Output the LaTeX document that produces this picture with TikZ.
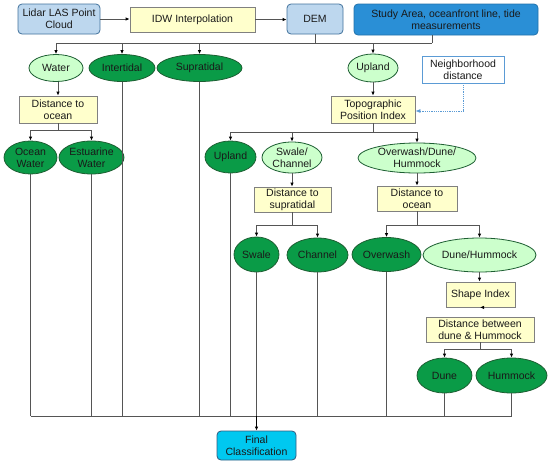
\documentclass[tikz,border=0pt]{standalone}
\usepackage{fontspec}
\setmainfont{Liberation Sans}
\usetikzlibrary{shapes.geometric,arrows.meta}
\definecolor{lbfill}{HTML}{BDD7EE}
\definecolor{lbdraw}{HTML}{41719C}
\definecolor{sblue}{HTML}{2A8FD6}
\definecolor{cyanf}{HTML}{00C8F0}
\definecolor{yfill}{HTML}{FFFFCC}
\definecolor{lgfill}{HTML}{CCFFCC}
\definecolor{dgfill}{HTML}{0A9B47}
\definecolor{gdraw}{HTML}{1D5E32}
\definecolor{ln}{HTML}{555555}
\definecolor{dotb}{HTML}{5B9BD5}
\tikzset{
  every node/.style={font=\fontsize{10.5}{12}\selectfont, align=center, inner sep=0pt, text=black!90},
  bluebox/.style={rectangle, rounded corners=4pt, fill=lbfill, draw=lbdraw, line width=0.8pt},
  studybox/.style={rectangle, rounded corners=4pt, fill=sblue, draw=sblue!80!black, line width=0.8pt},
  finalbox/.style={rectangle, rounded corners=4pt, fill=cyanf, draw=lbdraw!80!black, line width=0.8pt},
  ybox/.style={rectangle, fill=yfill, draw=gray, line width=0.8pt},
  wbox/.style={rectangle, fill=white, draw=dotb, line width=0.6pt},
  lgell/.style={ellipse, fill=lgfill, draw=gdraw, line width=0.8pt},
  dgell/.style={ellipse, fill=dgfill, draw=gdraw, line width=0.8pt},
  ln/.style={draw=ln, line width=0.8pt},
  arr/.style={ln, -{Latex[length=4pt,width=3.5pt,color=black]}},
  dotarr/.style={draw=dotb, line width=0.8pt, densely dotted, -{Latex[length=5pt,width=4pt]}}
}
\begin{document}
\begin{tikzpicture}[x=1pt,y=-1pt]
\useasboundingbox (0,0) rectangle (550,467);
% top row
\node[bluebox, minimum width=82pt, minimum height=30pt] (lidar) at (59,19) {Lidar LAS Point\\Cloud};
\node[ybox, minimum width=125pt, minimum height=25pt] (idw) at (192.5,19.5) {IDW Interpolation};
\node[bluebox, minimum width=56pt, minimum height=30pt] (dem) at (315,19) {DEM};
\node[studybox, minimum width=184pt, minimum height=31pt] (study) at (446,19.5) {Study Area, oceanfront line, tide\\measurements};
% second row
\node[lgell, minimum width=54pt, minimum height=27pt] (water) at (56,68) {Water};
\node[dgell, minimum width=66pt, minimum height=27pt] (inter) at (122,68) {Intertidal};
\node[dgell, minimum width=85pt, minimum height=27pt] (supra) at (199.5,68) {Supratidal};
\node[lgell, minimum width=50pt, minimum height=28pt] (uplandT) at (373,68) {Upland};
\node[wbox, minimum width=82pt, minimum height=27pt] (nbh) at (463,69.5) {Neighborhood\\distance};
% third row
\node[ybox, minimum width=78pt, minimum height=27pt] (dto1) at (58,109.5) {Distance to\\ocean};
\node[ybox, minimum width=84pt, minimum height=27pt] (tpi) at (373,109.5) {Topographic\\Position Index};
% fourth row
\node[dgell, minimum width=53pt, minimum height=33pt] (ocean) at (30.5,157.5) {Ocean\\Water};
\node[dgell, minimum width=65pt, minimum height=33pt] (estu) at (91.5,157.5) {Estuarine\\Water};
\node[dgell, minimum width=51pt, minimum height=32pt] (upland) at (230.5,157) {Upland};
\node[lgell, minimum width=60pt, minimum height=31pt] (swch) at (292,157.5) {Swale/\\Channel};
\node[lgell, minimum width=118pt, minimum height=30pt] (odh) at (417,158) {Overwash/Dune/\\Hummock};
% fifth row
\node[ybox, minimum width=77pt, minimum height=25pt] (dsup) at (292.5,199.5) {Distance to\\supratidal};
\node[ybox, minimum width=80pt, minimum height=25pt] (dto2) at (417,198.5) {Distance to\\ocean};
% sixth row
\node[dgell, minimum width=45pt, minimum height=35pt] (swale) at (256.5,254.5) {Swale};
\node[dgell, minimum width=61pt, minimum height=34pt] (channel) at (317.5,255) {Channel};
\node[dgell, minimum width=69pt, minimum height=34pt] (overwash) at (386.5,254.5) {Overwash};
\node[lgell, minimum width=113pt, minimum height=34pt] (dh) at (479.5,255) {Dune/Hummock};
\node[ybox, minimum width=69pt, minimum height=25pt] (shape) at (480.5,294.5) {Shape Index};
\node[ybox, minimum width=108pt, minimum height=25pt] (dbet) at (480,329.5) {Distance between\\dune \& Hummock};
\node[dgell, minimum width=55pt, minimum height=35pt] (dune) at (444.5,375.5) {Dune};
\node[dgell, minimum width=71pt, minimum height=35pt] (hummock) at (511.5,375.5) {Hummock};
\node[finalbox, minimum width=79pt, minimum height=29pt] (final) at (256.5,445.5) {Final\\Classification};
% coordinates
\coordinate (hub1) at (315,43);
\coordinate (sbx) at (432,43);
\coordinate (hub2) at (58,130);
\coordinate (hub3) at (373,132);
\coordinate (hub4) at (292.5,225);
\coordinate (hub5) at (417,225);
\coordinate (hub6) at (480,349);
\coordinate (bus) at (256.5,416);
% connectors top
\draw[arr] (lidar.east) -- (lidar.east -| idw.west);
\draw[arr] (idw.east) -- (idw.east -| dem.west);
\draw[ln] (dem.south) -- (hub1);
\draw[ln] (study.south -| sbx) -- (sbx);
\draw[ln] (water.north |- hub1) -- (sbx);
\draw[arr] (water.north |- hub1) -- (water.north);
\draw[arr] (inter.north |- hub1) -- (inter.north);
\draw[arr] (supra.north |- hub1) -- (supra.north);
\draw[arr] (uplandT.north |- hub1) -- (uplandT.north);
\draw[arr] (uplandT.south) -- (tpi.north);
\draw[dotarr] (nbh.south) |- ([yshift=-1.5pt]tpi.east);
% water branch
\draw[arr] (water.south -| dto1.north) -- (dto1.north);
\draw[ln] (dto1.south) -- (hub2);
\draw[ln] (ocean.north |- hub2) -- (estu.north |- hub2);
\draw[arr] (ocean.north |- hub2) -- (ocean.north);
\draw[arr] (estu.north |- hub2) -- (estu.north);
% upland branch
\draw[ln] (tpi.south) -- (hub3);
\draw[ln] (upland.north |- hub3) -- (odh.north |- hub3);
\draw[arr] (upland.north |- hub3) -- (upland.north);
\draw[arr] (swch.north |- hub3) -- (swch.north);
\draw[arr] (odh.north |- hub3) -- (odh.north);
\draw[arr] (swch.south) -- (swch.south |- dsup.north);
\draw[arr] (odh.south) -- (dto2.north);
\draw[ln] (dsup.south) -- (hub4);
\draw[ln] (swale.north |- hub4) -- (channel.north |- hub4);
\draw[arr] (swale.north |- hub4) -- (swale.north);
\draw[arr] (channel.north |- hub4) -- (channel.north);
\draw[ln] (dto2.south) -- (hub5);
\draw[ln] (overwash.north |- hub5) -- (dh.north |- hub5);
\draw[arr] (overwash.north |- hub5) -- (overwash.north);
\draw[arr] (dh.north |- hub5) -- (dh.north);
\draw[arr] (dh.south) -- (dh.south |- shape.north);
\draw[arr] (shape.south) -- (shape.south -| dbet.north);
\draw[ln] (dbet.south) -- (hub6);
\draw[ln] (dune.north |- hub6) -- (hummock.north |- hub6);
\draw[arr] (dune.north |- hub6) -- (dune.north);
\draw[arr] (hummock.north |- hub6) -- (hummock.north);
% final bus
\foreach \n in {ocean,estu,inter,supra,upland,swale,channel,overwash,dune,hummock}
  \draw[ln] (\n.south) -- (\n.south |- bus);
\draw[ln] (ocean.south |- bus) -- (hummock.south |- bus);
\draw[arr, draw=black] (bus) -- (final.north);
\end{tikzpicture}
\end{document}
